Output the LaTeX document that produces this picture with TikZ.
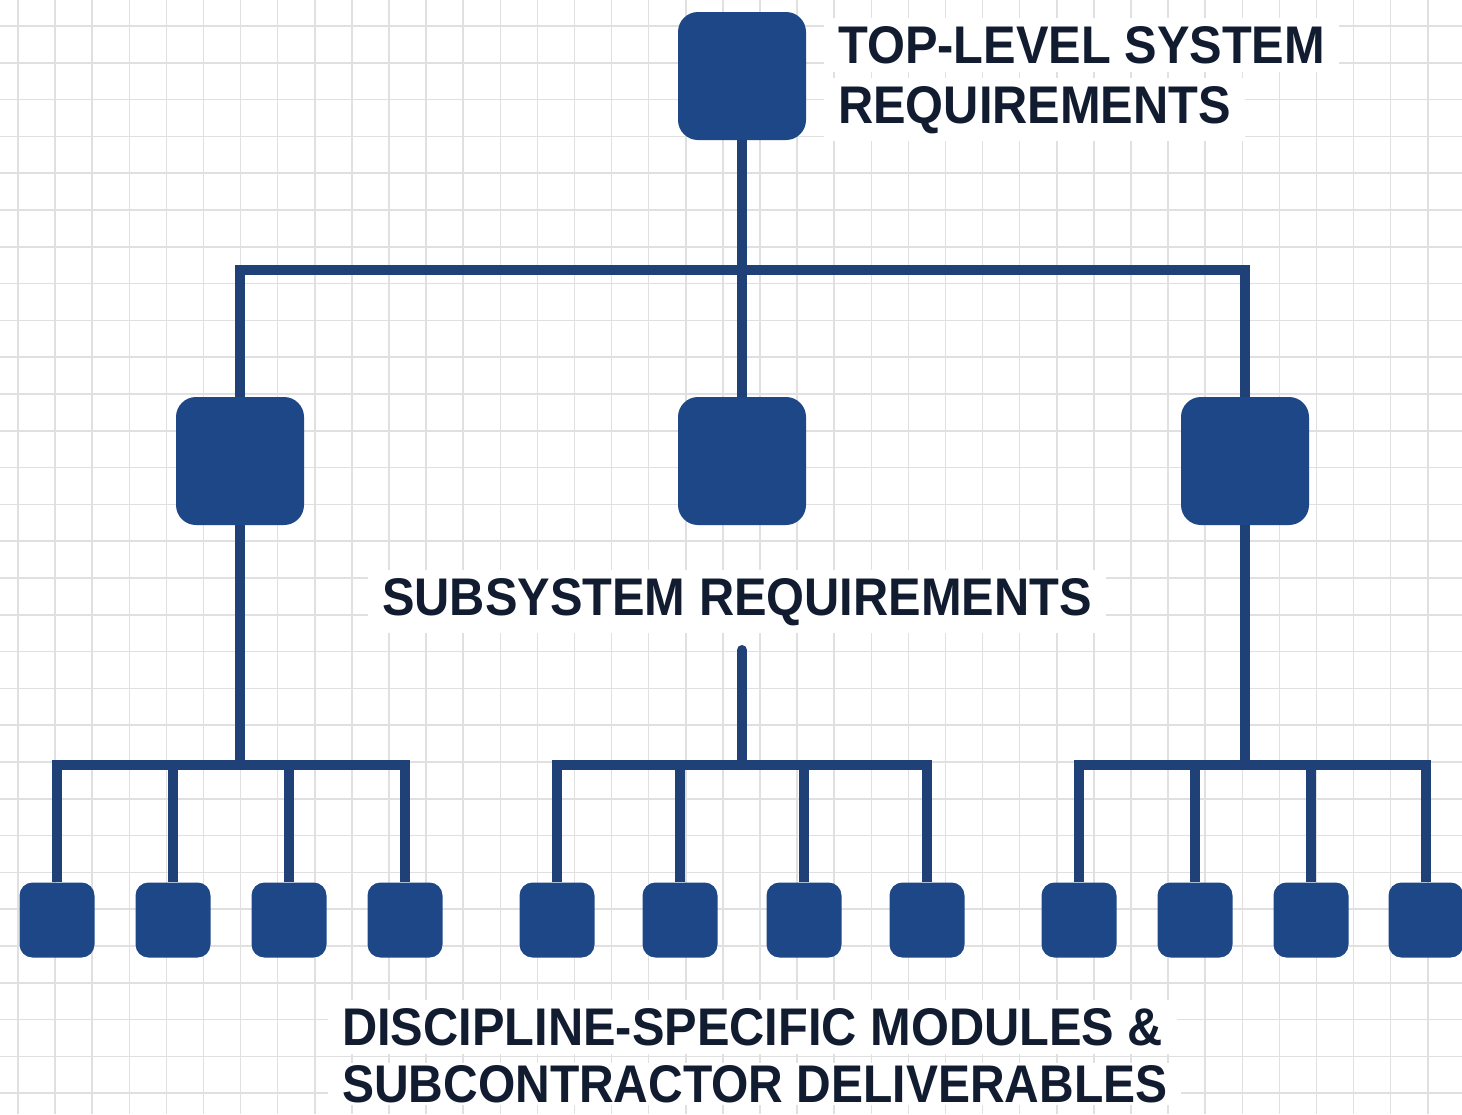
\documentclass[tikz,border=0pt]{standalone}
\usepackage{fontspec}
\newfontfamily\lblfont{Liberation Sans}[FakeStretch=0.92]
\newfontfamily\lblnarrow{Liberation Sans}[FakeStretch=0.905]
\definecolor{boxblue}{HTML}{1D4787}
\definecolor{wireblue}{HTML}{1F4178}
\definecolor{inkdark}{HTML}{121C30}
\definecolor{gridgray}{HTML}{E0E0E0}
\tikzset{
  gridline/.style={draw=gridgray, line width=1.5pt},
  bigbox/.style={rectangle, rounded corners=20pt, fill=boxblue, minimum size=128pt, inner sep=0pt},
  smallbox/.style={rectangle, rounded corners=13pt, fill=boxblue, minimum size=75pt, inner sep=0pt},
  wire/.style={draw=wireblue, line width=10pt},
  caption/.style={font=\lblfont\bfseries\fontsize{53}{60}\selectfont, text=inkdark, fill=white, inner xsep=14pt, inner ysep=8pt}
}
\begin{document}
\begin{tikzpicture}[x=1pt, y=-1pt]
  \useasboundingbox (0,0) rectangle (1462,1114);
  \fill[white] (0,0) rectangle (1462,1114);
  % graph paper
  \foreach \i in {0,...,39} \draw[gridline] ({18+37.1*\i},0) -- ({18+37.1*\i},1114);
  \foreach \j in {0,...,29} \draw[gridline] (0,{26+36.8*\j}) -- (1462,{26+36.8*\j});

  % labels
  \node[caption, anchor=base west] (toptxt1) at (824,63) {TOP-LEVEL SYSTEM};
  \node[caption, anchor=base west] (toptxt2) at (824,123) {REQUIREMENTS};
  \node[caption, anchor=base] (subtxt) at (737,615) {SUBSYSTEM REQUIREMENTS};
  \node[caption, anchor=base west] (bottxt1) at (328,1045) {DISCIPLINE-SPECIFIC MODULES \&};
  \node[caption, anchor=base west, inner ysep=2pt, font=\lblnarrow\bfseries\fontsize{53}{60}\selectfont]
    (bottxt2) at (328,1102) {SUBCONTRACTOR DELIVERABLES};

  % boxes
  \node[bigbox] (t) at (742,76) {};
  \node[bigbox] (m1) at (240,461) {};
  \node[bigbox] (m2) at (742,461) {};
  \node[bigbox] (m3) at (1245,461) {};
  \foreach \n/\x in {l1/57,l2/173,l3/289,l4/405,
                     c1/557,c2/680,c3/804,c4/927,
                     r1/1079,r2/1195,r3/1311,r4/1426}
    \node[smallbox] (\n) at (\x,920) {};

  % bus rows
  \coordinate (upper) at (0,270);
  \coordinate (lower) at (0,765);
  \coordinate (stub) at (742,650);

  % connectors
  \draw[wire] (t.south) -- (m2.north);
  \draw[wire] (m1.north) -- (m1.north |- upper) -- (m3.north |- upper) -- (m3.north);

  \draw[wire] (m1.south) -- (m1.south |- lower);
  \draw[wire] (l1.north) -- (l1.north |- lower) -- (l4.north |- lower) -- (l4.north);
  \draw[wire] (l2.north) -- (l2.north |- lower);
  \draw[wire] (l3.north) -- (l3.north |- lower);

  \draw[wire, line cap=round] (stub) -- (stub |- lower);
  \draw[wire] (c1.north) -- (c1.north |- lower) -- (c4.north |- lower) -- (c4.north);
  \draw[wire] (c2.north) -- (c2.north |- lower);
  \draw[wire] (c3.north) -- (c3.north |- lower);

  \draw[wire] (m3.south) -- (m3.south |- lower);
  \draw[wire] (r1.north) -- (r1.north |- lower) -- (r4.north |- lower) -- (r4.north);
  \draw[wire] (r2.north) -- (r2.north |- lower);
  \draw[wire] (r3.north) -- (r3.north |- lower);
\end{tikzpicture}
\end{document}
